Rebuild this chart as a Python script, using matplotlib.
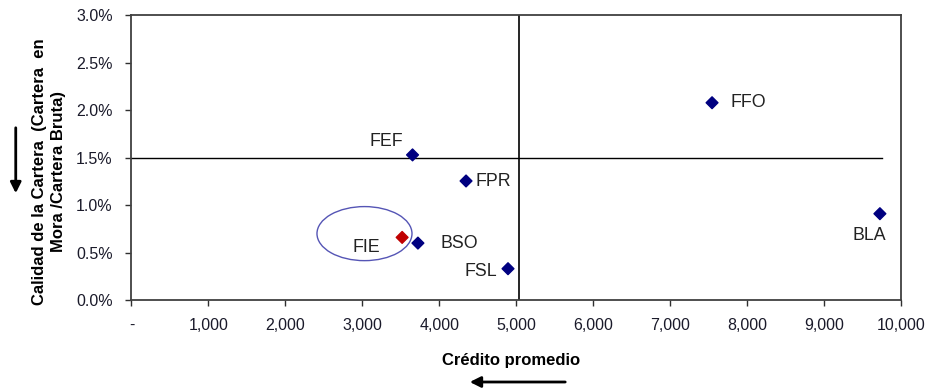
import matplotlib
matplotlib.use("Agg")
import matplotlib.pyplot as plt
from matplotlib.patches import Ellipse, FancyArrowPatch

plt.rcParams['font.family'] = ['Liberation Sans', 'DejaVu Sans']

# Entities: average credit vs. portfolio-at-risk ratio
names = ["FEF", "FPR", "FIE", "BSO", "FSL", "FFO", "BLA"]
credito = [3650, 4345, 3515, 3720, 4890, 7540, 9720]
mora = [0.0153, 0.01255, 0.0066, 0.0060, 0.0033, 0.0208, 0.0091]
colors = ["#000080", "#000080", "#C00000", "#000080", "#000080", "#000080", "#000080"]

x_ticks = [0, 1000, 2000, 3000, 4000, 5000, 6000, 7000, 8000, 9000, 10000]
x_tick_labels = ["-", "1,000", "2,000", "3,000", "4,000", "5,000", "6,000",
                 "7,000", "8,000", "9,000", "10,000"]
y_ticks = [0.0, 0.005, 0.010, 0.015, 0.020, 0.025, 0.030]
y_tick_labels = ["0.0%", "0.5%", "1.0%", "1.5%", "2.0%", "2.5%", "3.0%"]

# label offsets (points) per entity
offsets = {"FEF": (-31, 9.4), "FPR": (6.5, -0.7), "FIE": (-36, -7), "BSO": (16, 0),
           "FSL": (-31, -2), "FFO": (13, 0), "BLA": (-20, -16)}

fig = plt.figure(figsize=(9.26, 3.88), dpi=100)
ax = fig.add_axes([0.142, 0.2268, 0.8315, 0.7333])

# quadrant divider lines
ax.plot([0, 9750], [0.015, 0.015], color="black", lw=1.0)
ax.plot([5030, 5030], [0, 0.030], color="black", lw=1.2)

ax.scatter(credito, mora, marker="D", s=36, c=colors, zorder=3)
for n, x, y in zip(names, credito, mora):
    ax.annotate(n, (x, y), xytext=offsets[n], textcoords="offset points",
                fontsize=12.8, color="#222222", va="center", ha="left")

ax.add_patch(Ellipse((3026, 0.0070), 1234, 0.0057, fill=False,
                     edgecolor="#5555b5", lw=1.0))

ax.set_xlim(0, 10000)
ax.set_ylim(0, 0.030)
ax.set_xticks(x_ticks)
ax.set_xticklabels(x_tick_labels)
ax.set_yticks(y_ticks)
ax.set_yticklabels(y_tick_labels)
ax.tick_params(axis="both", labelsize=11.5, colors="#303030", labelcolor="#1a1a2a",
               length=4, width=1.0)
ax.tick_params(axis="x", pad=9)
ax.tick_params(axis="y", pad=9.5)
for s in ax.spines.values():
    s.set_linewidth(1.3)
    s.set_color("#404040")

fig.text(0.552, 0.072, "Crédito promedio", ha="center", va="center",
         fontsize=12, fontweight="bold")
fig.text(0.053, 0.557, "Calidad de la Cartera  (Cartera  en\nMora /Cartera Bruta)",
         ha="center", va="center", rotation=90, fontsize=12,
         fontweight="bold", linespacing=1.3)

# direction arrows
fig.add_artist(FancyArrowPatch(
    (0.017, 1 - 125 / 388), (0.017, 1 - 196 / 388), transform=fig.transFigure,
    arrowstyle="-|>", mutation_scale=16, color="black", lw=2))
fig.add_artist(FancyArrowPatch(
    (568 / 926, 1 - 382 / 388), (467 / 926, 1 - 382 / 388), transform=fig.transFigure,
    arrowstyle="-|>", mutation_scale=16, color="black", lw=2))

fig.savefig("out.png", dpi=100)
